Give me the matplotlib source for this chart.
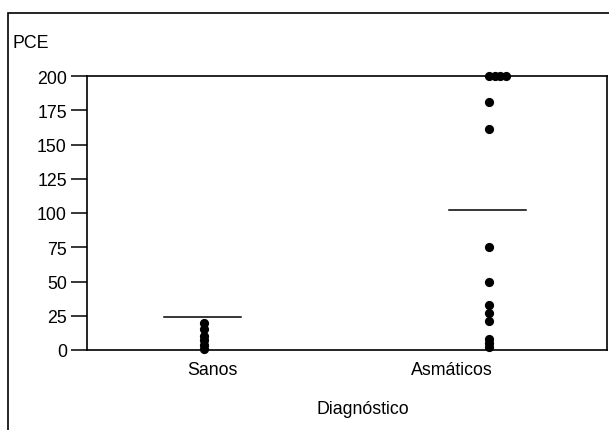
import numpy as np
import matplotlib.pyplot as plt
from matplotlib.patches import Rectangle

plt.rcParams['font.family'] = ['Liberation Sans', 'DejaVu Sans']

grupos = ['Sanos', 'Asmáticos']
pos_grupo = [1.0, 2.0]
pos_etiqueta = [1.03, 1.87]
sanos = [20, 15, 10, 7, 4, 1]
asmaticos = [200, 200, 200, 200, 181, 161, 75, 50, 33, 27, 21, 8, 5, 2]
lineas = [24, 102]
yticks = [0, 25, 50, 75, 100, 125, 150, 175, 200]

fig = plt.figure(figsize=(6.09, 4.31), dpi=100)
ax = fig.add_axes([87/609, 1 - 351/431, 520/609, 274/431])

# recuadro exterior
fig.patches.append(Rectangle((8/609, -0.05), 1.2, (431 - 14)/431 + 0.05,
                             transform=fig.transFigure, fill=False,
                             edgecolor='black', linewidth=1.2))

for x0, valores in zip(pos_grupo, [sanos, asmaticos]):
    vistos = {}
    xs = []
    for v in valores:
        k = vistos.get(v, 0)
        xs.append(x0 + 0.02 * k)
        vistos[v] = k + 1
    ax.scatter(xs, valores, s=44, color='black', zorder=3, clip_on=False,
               linewidths=0)

for x0, m in zip(pos_grupo, lineas):
    ax.plot([x0 - 0.14, x0 + 0.13], [m, m], color='black', linewidth=1.1)

ax.set_xlim(0.589, 2.414)
ax.set_ylim(0, 200)
ax.set_yticks(yticks)
ax.set_yticklabels([str(t) for t in yticks], fontsize=12.8)
ax.set_xticks(pos_etiqueta)
ax.set_xticklabels(grupos, fontsize=12.8)
ax.tick_params(axis='y', length=11.5, width=1.1, pad=3)
ax.tick_params(axis='x', length=0, pad=8)
for s in ax.spines.values():
    s.set_linewidth(1.2)

fig.text(12/609, 1 - 43/431, 'PCE', fontsize=12.8, va='center', ha='left')
fig.text(363/609, 1 - 410/431, 'Diagnóstico', fontsize=12.8, va='center', ha='center')

fig.savefig('out.png', dpi=100)
